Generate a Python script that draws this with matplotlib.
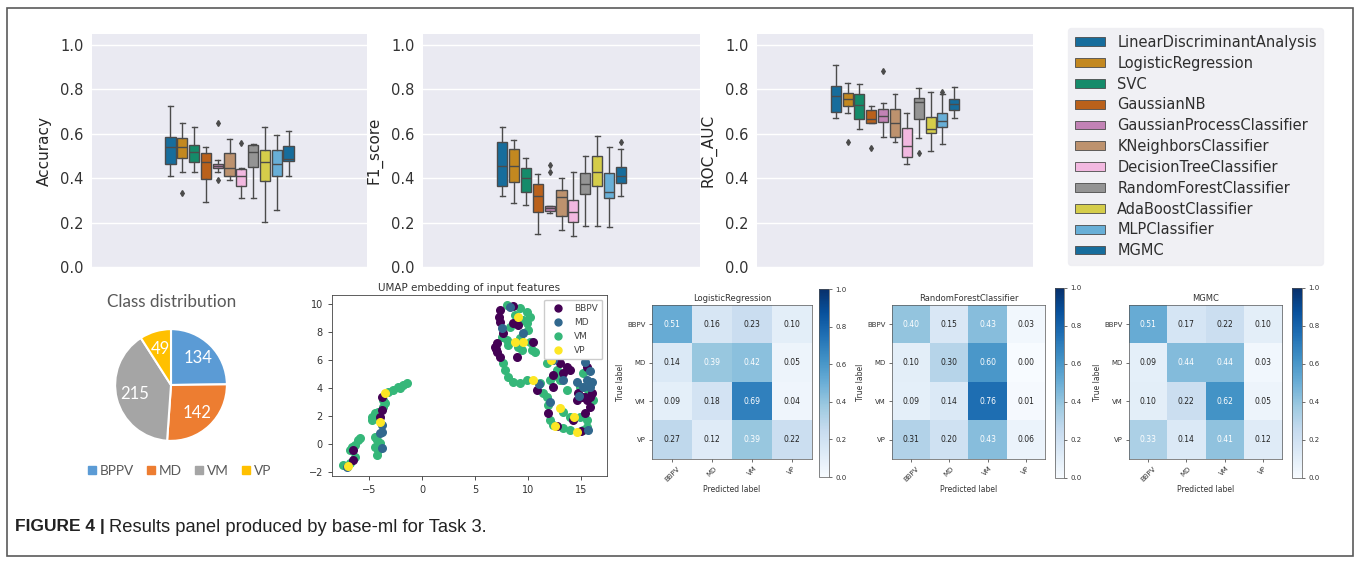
import numpy as np
import matplotlib
matplotlib.use('Agg')
import matplotlib.pyplot as plt
from matplotlib.patches import Rectangle, Patch
from matplotlib.lines import Line2D
import seaborn as sns

W, H = 1360, 563

models = ['LinearDiscriminantAnalysis', 'LogisticRegression', 'SVC', 'GaussianNB',
          'GaussianProcessClassifier', 'KNeighborsClassifier', 'DecisionTreeClassifier',
          'RandomForestClassifier', 'AdaBoostClassifier', 'MLPClassifier', 'MGMC']

# boxplot summaries (whisker low, q1, median, q3, whisker high, outliers)
acc_lo = [0.408, 0.426, 0.426, 0.295, 0.430, 0.390, 0.313, 0.313, 0.202, 0.258, 0.408]
acc_q1 = [0.463, 0.490, 0.472, 0.397, 0.445, 0.412, 0.367, 0.450, 0.388, 0.412, 0.478]
acc_med = [0.540, 0.540, 0.520, 0.471, 0.456, 0.445, 0.408, 0.520, 0.471, 0.463, 0.486]
acc_q3 = [0.588, 0.580, 0.550, 0.513, 0.465, 0.513, 0.441, 0.550, 0.528, 0.528, 0.546]
acc_hi = [0.726, 0.648, 0.630, 0.540, 0.480, 0.577, 0.445, 0.555, 0.630, 0.594, 0.615]
acc_out = [[], [0.333], [], [], [0.648, 0.390], [], [0.558], [], [], [], []]

f1_lo = [0.322, 0.288, 0.280, 0.150, 0.243, 0.168, 0.138, 0.187, 0.187, 0.180, 0.322]
f1_q1 = [0.366, 0.385, 0.337, 0.250, 0.253, 0.232, 0.202, 0.327, 0.367, 0.310, 0.378]
f1_med = [0.456, 0.453, 0.400, 0.322, 0.265, 0.315, 0.246, 0.375, 0.427, 0.337, 0.408]
f1_q3 = [0.562, 0.531, 0.448, 0.375, 0.277, 0.348, 0.300, 0.423, 0.498, 0.423, 0.450]
f1_hi = [0.633, 0.571, 0.490, 0.420, 0.277, 0.400, 0.430, 0.498, 0.591, 0.543, 0.531]
f1_out = [[], [], [], [], [0.460, 0.427], [], [], [], [], [], [0.562]]

roc_lo = [0.673, 0.696, 0.621, 0.648, 0.588, 0.562, 0.463, 0.583, 0.525, 0.553, 0.670]
roc_q1 = [0.700, 0.726, 0.666, 0.651, 0.655, 0.588, 0.495, 0.666, 0.606, 0.633, 0.708]
roc_med = [0.771, 0.756, 0.730, 0.667, 0.681, 0.648, 0.546, 0.745, 0.622, 0.658, 0.735]
roc_q3 = [0.817, 0.783, 0.778, 0.708, 0.711, 0.711, 0.628, 0.760, 0.678, 0.693, 0.756]
roc_hi = [0.910, 0.828, 0.823, 0.726, 0.741, 0.778, 0.696, 0.805, 0.787, 0.780, 0.813]
roc_out = [[], [0.562], [], [0.538], [0.885], [], [], [0.513], [], [0.787], []]

# class distribution
classes_pie = ['BPPV', 'MD', 'VM', 'VP']
counts = [134, 142, 215, 49]

# UMAP embedding points (x, y) per class
bbpv_x = [-6.48, -6.48, -3.81, -3.95, -3.81, 7.36, 7.30, 7.36, 8.62, 7.04, 6.89, 7.04, 7.36, 7.67,
          8.93, 10.5, 8.62, 10.82, 11.92, 12.39, 13.02, 13.65, 13.96, 12.39, 13.33, 14.75, 14.59,
          15.06, 15.38, 15.85, 15.53, 15.85, 16.0, 15.53, 15.38, 14.28, 12.70, 15.0, 9.09, 6.95]
bbpv_y = [-1.14, -0.43, 2.43, 1.95, 3.38, 9.57, 9.10, 8.74, 9.86, 7.19, 6.95, 6.60, 6.24, 7.90,
          6.24, 7.31, 8.62, 3.86, 2.19, 4.10, 5.76, 5.52, 5.29, 4.93, 5.05, 3.62, 3.14,
          3.38, 3.38, 3.38, 3.14, 2.67, 3.62, 5.52, 2.19, 1.71, 1.25, 0.90, 8.50, 6.80]

md_x = [-3.81, -3.81, -3.96, -3.81, -7.11, 8.30, 7.50, 15.38, 15.53, 15.85, 15.22, 14.60,
        12.39, 13.33, 16.0, 15.80, 11.0, 12.10, 15.70, 9.56, 14.80]
md_y = [1.36, 0.88, 0.76, -0.31, -1.62, 9.80, 8.30, 5.88, 4.57, 4.10, 4.10, 4.40,
        6.00, 4.57, 4.40, 5.20, 4.30, 3.00, 1.00, 7.90, 3.40]

vm_x = [-7.42, -6.79, -6.32, -6.64, -6.32, -6.01, -5.85, -6.79, -4.75, -4.43, -4.12, -3.65,
        -3.49, -3.65, -3.18, -2.70, -2.23, -1.76, -1.45, -2.07, -4.75, -4.43, -4.43, -4.28,
        -4.43, -4.12, -4.28, -3.96,
        7.99, 9.25, 9.87, 10.19, 9.56, 9.87, 10.03, 7.52, 7.99, 8.14, 8.30, 9.25, 9.09, 9.40,
        10.19, 10.35, 7.67, 7.83, 8.14, 8.62, 9.25, 9.87, 11.13, 11.45, 11.76, 11.92, 12.08,
        12.39, 13.33, 13.96, 15.22, 15.53, 15.53, 12.08, 12.86, 13.33, 13.96, 14.90, 12.70,
        13.02, 15.22, 14.90, 15.69, 16.16, 11.76, 13.65, 8.80, 10.70]
vm_y = [-1.50, -1.38, -0.90, -0.19, -0.07, 0.29, 0.40, -0.43, 1.95, 2.19, 2.31, 2.67,
        2.90, 3.14, 3.74, 3.86, 4.10, 4.21, 4.33, 3.98, 1.71, 1.83, 0.52, 0.29,
        -0.19, -0.43, -0.79, 0.05,
        9.93, 9.69, 9.45, 9.10, 8.86, 8.62, 8.14, 7.67, 7.43, 7.07, 8.38, 7.55, 6.95, 6.71,
        7.31, 6.71, 5.76, 5.29, 4.81, 4.45, 4.33, 4.57, 4.33, 3.62, 3.38, 2.79, 1.71,
        1.36, 1.12, 1.00, 1.00, 1.24, 1.71, 4.57, 4.81, 2.31, 1.95, 1.95, 5.29,
        4.57, 5.05, 4.10, 3.86, 3.14, 5.76, 3.86, 9.20, 6.60]

vp_x = [-3.49, -3.96, -7.00, 9.09, 9.56, 10.50, 13.00, 12.20, 14.30, 14.59, 8.80, 12.50]
vp_y = [3.62, 1.60, -1.60, 9.10, 7.31, 4.57, 2.55, 6.00, 1.95, 0.88, 7.30, 1.30]

# normalised confusion matrices
cm_labels = ['BBPV', 'MD', 'VM', 'VP']
cm_lr = [[0.51, 0.16, 0.23, 0.10],
         [0.14, 0.39, 0.42, 0.05],
         [0.09, 0.18, 0.69, 0.04],
         [0.27, 0.12, 0.39, 0.22]]
cm_rf = [[0.40, 0.15, 0.43, 0.03],
         [0.10, 0.30, 0.60, 0.00],
         [0.09, 0.14, 0.76, 0.01],
         [0.31, 0.20, 0.43, 0.06]]
cm_mgmc = [[0.51, 0.17, 0.22, 0.10],
           [0.09, 0.44, 0.44, 0.03],
           [0.10, 0.22, 0.62, 0.05],
           [0.33, 0.14, 0.41, 0.12]]


def px(l, t, r, b):
    # pixel box -> figure fraction rect
    return [l / W, 1 - b / H, (r - l) / W, (b - t) / H]


fig = plt.figure(figsize=(W / 100, H / 100), dpi=100)
fig.patch.set_facecolor('white')

# outer frame
fig.patches.append(Rectangle((7 / W, 1 - 556 / H), 1346 / W, 548 / H, transform=fig.transFigure,
                             fill=False, edgecolor='#5a5a5a', linewidth=1.2))

box_colors = sns.color_palette('colorblind', 11, desat=0.75)
lc = '#4b4b4b'

box_sets = [
    ('Accuracy', acc_lo, acc_q1, acc_med, acc_q3, acc_hi, acc_out, (92, 34, 367, 267)),
    ('F1_score', f1_lo, f1_q1, f1_med, f1_q3, f1_hi, f1_out, (423, 34, 700, 267)),
    ('ROC_AUC', roc_lo, roc_q1, roc_med, roc_q3, roc_hi, roc_out, (757, 34, 1033, 267)),
]
for name, lo, q1, med, q3, hi, out, box in box_sets:
    ax = fig.add_axes(px(*box))
    ax.set_facecolor('#EAEAF2')
    stats = [dict(whislo=lo[i], q1=q1[i], med=med[i], q3=q3[i], whishi=hi[i], fliers=out[i])
             for i in range(len(models))]
    bp = ax.bxp(stats, positions=np.arange(len(models)), widths=0.85, patch_artist=True,
                boxprops=dict(edgecolor=lc, linewidth=1.0),
                whiskerprops=dict(color=lc, linewidth=1.0),
                capprops=dict(color=lc, linewidth=1.0),
                medianprops=dict(color=lc, linewidth=1.0),
                flierprops=dict(marker='d', markerfacecolor=lc, markeredgecolor=lc, markersize=3),
                capwidths=0.42)
    for patch, c in zip(bp['boxes'], box_colors):
        patch.set_facecolor(c)
    ax.set_xlim(5 - 11.65, 5 + 11.65)
    ax.set_ylim(0, 1.05)
    ax.set_yticks([0.0, 0.2, 0.4, 0.6, 0.8, 1.0])
    ax.set_xticks([])
    ax.grid(axis='y', color='white', linewidth=1.0)
    ax.set_axisbelow(True)
    for s in ax.spines.values():
        s.set_visible(False)
    ax.tick_params(axis='y', length=0, labelsize=10.5, labelcolor='#333333', pad=6)
    ax.set_ylabel(name, fontsize=11, color='#262626', labelpad=6)

handles = [Patch(facecolor=c, edgecolor=lc, linewidth=0.6) for c in box_colors]
leg = fig.legend(handles, models, loc='upper left', bbox_to_anchor=(1061 / W, 1 - 21 / H),
                 fontsize=10.5, frameon=True, facecolor='#EDEDF2', edgecolor='#EDEDF2',
                 handlelength=2.1, handleheight=0.55, handletextpad=0.8, labelspacing=0.4,
                 borderpad=0.45, fancybox=True)
for t in leg.get_texts():
    t.set_color('#2e2e2e')

# pie chart
pie_colors = ['#5B9BD5', '#ED7D31', '#A5A5A5', '#FFC000']
axp = fig.add_axes(px(114, 328, 228, 442))
total = sum(counts)
wedges, texts, autotexts = axp.pie(counts, colors=pie_colors, startangle=90, counterclock=False,
                                   wedgeprops=dict(edgecolor='white', linewidth=1.5),
                                   autopct=lambda p: f'{round(p * total / 100)}', pctdistance=0.68,
                                   radius=1.0, textprops=dict(color='white', fontsize=12,
                                                              family=['Lato', 'DejaVu Sans']))
axp.set_xlim(-1.02, 1.02)
axp.set_ylim(-1.02, 1.02)
axp.set_aspect('auto')
fig.text(172 / W, 1 - 302 / H, 'Class distribution', ha='center', va='center', fontsize=12.3,
         color='#595959', family=['Lato', 'DejaVu Sans'])
pie_handles = [Line2D([], [], marker='s', linestyle='none', markersize=5.5, color=c) for c in pie_colors]
pleg = fig.legend(pie_handles, classes_pie, loc='center', bbox_to_anchor=(180 / W, 1 - 471 / H),
                  ncol=4, frameon=False, handlelength=0.5, handletextpad=0.35, columnspacing=1.0,
                  prop=dict(family=['Lato', 'DejaVu Sans'], size=9.8))
for t in pleg.get_texts():
    t.set_color('#595959')

# UMAP scatter
vir = plt.get_cmap('viridis')
umap_cols = [vir(0.0), vir(1 / 3), vir(2 / 3), vir(1.0)]
axu = fig.add_axes(px(332, 295, 607, 476))
axu.scatter(vm_x, vm_y, s=30, color=umap_cols[2], zorder=2)
axu.scatter(bbpv_x, bbpv_y, s=30, color=umap_cols[0], zorder=3)
axu.scatter(md_x, md_y, s=30, color=umap_cols[1], zorder=3)
axu.scatter(vp_x, vp_y, s=30, color=umap_cols[3], zorder=4)
axu.set_xlim(-8.5, 17.45)
axu.set_ylim(-2.29, 10.64)
axu.set_xticks([-5, 0, 5, 10, 15])
axu.set_yticks([-2, 0, 2, 4, 6, 8, 10])
axu.tick_params(labelsize=7, length=3, width=0.6, colors='#333333')
for s in axu.spines.values():
    s.set_linewidth(0.6)
    s.set_color('#444444')
axu.set_title('UMAP embedding of input features', fontsize=7.5, color='#333333', pad=3)
uh = [Line2D([], [], marker='o', linestyle='none', markersize=5, color=c) for c in umap_cols]
ul = axu.legend(uh, ['BBPV', 'MD', 'VM', 'VP'], loc='upper right', fontsize=6.5,
                handletextpad=0.8, borderpad=0.5, labelspacing=0.55, framealpha=1,
                edgecolor='#cccccc')
for t in ul.get_texts():
    t.set_color('#444444')

# confusion matrices
cm_sets = [
    ('LogisticRegression', cm_lr, (652, 305, 812, 459), (819, 289, 829, 477)),
    ('RandomForestClassifier', cm_rf, (892, 305, 1045, 459), (1055, 288, 1064, 478)),
    ('MGMC', cm_mgmc, (1129, 305, 1282, 459), (1292, 288, 1302, 478)),
]
for title, cm, box, cbox in cm_sets:
    cm = np.array(cm)
    ax = fig.add_axes(px(*box))
    im = ax.imshow(cm, cmap='Blues', vmin=0, vmax=1, aspect='auto')
    thresh = (cm.max() + cm.min()) / 2
    for i in range(4):
        for j in range(4):
            col = 'white' if cm[i, j] > thresh else '#222222'
            ax.text(j, i, f'{cm[i, j]:.2f}', ha='center', va='center', fontsize=5.5, color=col)
    ax.set_xticks(range(4))
    ax.set_xticklabels(cm_labels, rotation=45)
    ax.set_yticks(range(4))
    ax.set_yticklabels(cm_labels)
    ax.tick_params(labelsize=5, length=2.5, width=0.5, colors='#333333', pad=2)
    ax.set_xlabel('Predicted label', fontsize=5.5, color='#333333', labelpad=2)
    ax.set_ylabel('True label', fontsize=5.5, color='#333333', labelpad=2)
    ax.set_title(title, fontsize=6, color='#333333', pad=3)
    for s in ax.spines.values():
        s.set_linewidth(0.5)
        s.set_color('#555555')
    cax = fig.add_axes(px(*cbox))
    cb = fig.colorbar(im, cax=cax, ticks=[0.0, 0.2, 0.4, 0.6, 0.8, 1.0])
    cb.ax.tick_params(labelsize=5, length=2.5, width=0.5, colors='#333333', pad=2)
    cb.outline.set_linewidth(0.5)
    cb.outline.set_edgecolor('#555555')

# caption
cap_font = ['Liberation Sans', 'DejaVu Sans']
t1 = fig.text(15 / W, 1 - 527 / H, 'FIGURE 4 |', ha='left', va='center', fontsize=12.5,
              fontweight='bold', family=cap_font, color='#222222')
fig.canvas.draw()
bb = t1.get_window_extent()
fig.text((bb.x1 + 4) / W, 1 - 527 / H, 'Results panel produced by base-ml for Task 3.',
         ha='left', va='center', fontsize=13.2, family=cap_font, color='#222222')

fig.savefig('out.png', dpi=100, facecolor='white')
